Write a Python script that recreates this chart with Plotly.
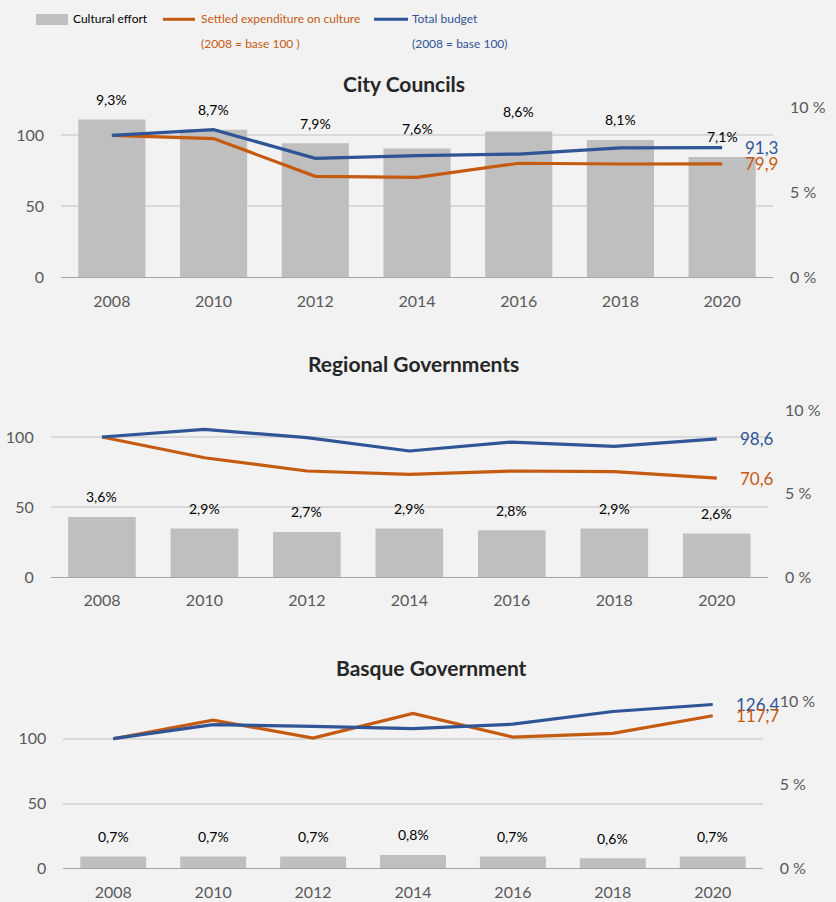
import plotly.graph_objects as go

# ---------------- data ----------------
years = ["2008", "2010", "2012", "2014", "2016", "2018", "2020"]

cc_effort = [9.3, 8.7, 7.9, 7.6, 8.6, 8.1, 7.1]
cc_settled = [100, 97.7, 71.1, 70.4, 80.3, 79.8, 79.9]
cc_budget = [100, 104.0, 83.8, 85.7, 86.8, 91.1, 91.3]

rg_effort = [3.6, 2.9, 2.7, 2.9, 2.8, 2.9, 2.6]
rg_settled = [100, 85.2, 75.7, 73.3, 75.7, 75.2, 70.6]
rg_budget = [100, 105.5, 99.5, 90.0, 96.4, 93.3, 98.6]

bg_effort = [0.7, 0.7, 0.7, 0.8, 0.7, 0.6, 0.7]
bg_settled = [100, 114.3, 100.5, 119.5, 101.2, 104.1, 117.7]
bg_budget = [100, 110.8, 109.5, 107.7, 111.2, 121.0, 126.4]

panel_titles = ["City Councils", "Regional Governments", "Basque Government"]
legend_effort = "Cultural effort"
legend_settled = ["Settled expenditure on culture", "(2008 = base 100 )"]
legend_budget = ["Total budget", "(2008 = base 100)"]

# ---------------- style ----------------
W = 836
H_REF = 902          # reference picture height (layout measured in these pixels)
H = 912              # figure height
SY = H / H_REF       # vertical scale from reference pixels to figure pixels
BG = "#f2f2f2"
BAR = "#bfbfbf"
ORANGE = "#c55a11"
BLUE = "#2f5597"
GRID = "#d9d9d9"
TICK = "#595959"
FONT = "Lato"

panels = [
    dict(xl=61, xr=773, y0=276.3, yt=95, ppu=1.42, ppp=16.96, tx=404, ty=82),
    dict(xl=50.7, xr=768, y0=576, yt=400, ppu=1.40, ppp=16.7, tx=413, ty=362),
    dict(xl=63.3, xr=762.7, y0=867.3, yt=690, ppu=1.296, ppp=16.73, tx=431, ty=666),
]
series = [
    (cc_effort, cc_settled, cc_budget),
    (rg_effort, rg_settled, rg_budget),
    (bg_effort, bg_settled, bg_budget),
]


def px(x):
    return x / W


def py(y):
    return 1 - (y * SY) / H


def fmt(v, pct=False):
    s = f"{v:.1f}".replace(".", ",")
    return s + "%" if pct else s


fig = go.Figure()
layout = dict(
    width=W, height=H,
    margin=dict(l=0, r=0, t=0, b=0),
    paper_bgcolor=BG, plot_bgcolor="rgba(0,0,0,0)",
    showlegend=False, bargap=0.34,
    font=dict(family=FONT, color=TICK),
)
annotations = []
shapes = []

for k, (p, (eff, settled, budget)) in enumerate(zip(panels, series), start=1):
    xname = "x" if k == 1 else f"x{k}"
    xkey = "xaxis" if k == 1 else f"xaxis{k}"
    base_id = 2 * k - 1
    over_id = 2 * k
    base_name = "y" if base_id == 1 else f"y{base_id}"
    base_key = "yaxis" if base_id == 1 else f"yaxis{base_id}"
    over_name = f"y{over_id}"
    over_key = f"yaxis{over_id}"

    dom_y = [py(p["y0"]), py(p["yt"])]
    lmax = (p["y0"] - p["yt"]) / p["ppu"]
    rmax = (p["y0"] - p["yt"]) / p["ppp"]

    layout[xkey] = dict(
        domain=[px(p["xl"]), px(p["xr"])], anchor=base_name, type="category",
        range=[-0.5, len(years) - 0.5],
        showline=True, linecolor="#a6a6a6", linewidth=1, ticks="",
        tickfont=dict(size=16, color=TICK, family=FONT), ticklabelstandoff=9,
        showgrid=False, fixedrange=True,
    )
    layout[base_key] = dict(
        domain=dom_y, anchor=xname, side="right", range=[0, rmax], dtick=5,
        ticksuffix=" %", showgrid=False, zeroline=False, showline=False,
        tickfont=dict(size=16, color=TICK, family=FONT), ticklabelstandoff=16,
        fixedrange=True,
    )
    layout[over_key] = dict(
        domain=dom_y, anchor=xname, overlaying=base_name, side="left",
        range=[0, lmax], dtick=50, showgrid=True, gridcolor=GRID, gridwidth=1.5,
        zeroline=False, showline=False,
        tickfont=dict(size=16, color=TICK, family=FONT), ticklabelstandoff=16,
        fixedrange=True,
    )

    fig.add_trace(go.Bar(x=years, y=eff, marker=dict(color=BAR, line=dict(width=0)),
                         xaxis=xname, yaxis=base_name, name=legend_effort))
    fig.add_trace(go.Scatter(x=years, y=settled, mode="lines",
                             line=dict(color=ORANGE, width=3.2),
                             xaxis=xname, yaxis=over_name, name=legend_settled[0]))
    fig.add_trace(go.Scatter(x=years, y=budget, mode="lines",
                             line=dict(color=BLUE, width=3.2),
                             xaxis=xname, yaxis=over_name, name=legend_budget[0]))

    for i, v in enumerate(eff):
        annotations.append(dict(x=i, y=v, xref=xname, yref=base_name, text=fmt(v, True),
                                showarrow=False, yshift=20 * SY, yanchor="middle",
                                font=dict(size=14, color="#000000", family=FONT)))
    last = len(years) - 1
    annotations.append(dict(x=last, y=budget[-1], xref=xname, yref=over_name,
                            text=fmt(budget[-1]), showarrow=False, xanchor="left",
                            xshift=21, yanchor="middle",
                            font=dict(size=17, color=BLUE, family=FONT)))
    annotations.append(dict(x=last, y=settled[-1], xref=xname, yref=over_name,
                            text=fmt(settled[-1]), showarrow=False, xanchor="left",
                            xshift=21, yanchor="middle",
                            font=dict(size=17, color=ORANGE, family=FONT)))
    annotations.append(dict(x=px(p["tx"]), y=py(p["ty"]), xref="paper", yref="paper",
                            text=f"<b>{panel_titles[k-1]}</b>", showarrow=False,
                            xanchor="center", yanchor="middle",
                            font=dict(size=21, color="#262626", family=FONT)))

shapes.append(dict(type="rect", xref="paper", yref="paper",
                   x0=px(36), x1=px(68), y0=py(24), y1=py(13),
                   fillcolor=BAR, line=dict(width=0)))
shapes.append(dict(type="line", xref="paper", yref="paper",
                   x0=px(163), x1=px(195), y0=py(18.3), y1=py(18.3),
                   line=dict(color=ORANGE, width=3)))
shapes.append(dict(type="line", xref="paper", yref="paper",
                   x0=px(374), x1=px(408), y0=py(18.3), y1=py(18.3),
                   line=dict(color=BLUE, width=3)))
leg_items = [
    (71, 18, legend_effort, "#000000"),
    (199, 18, legend_settled[0], ORANGE),
    (199, 43, legend_settled[1], ORANGE),
    (410, 18, legend_budget[0], BLUE),
    (410, 43, legend_budget[1], BLUE),
]
for x, y, t, c in leg_items:
    annotations.append(dict(x=px(x), y=py(y), xref="paper", yref="paper", text=t,
                            showarrow=False, xanchor="left", yanchor="middle",
                            font=dict(size=12, color=c, family=FONT)))

layout["annotations"] = annotations
layout["shapes"] = shapes
fig.update_layout(**layout)

post = "document.body.style.margin='0';document.body.style.background='#f2f2f2';"
fig.write_html("out.html", config={"displayModeBar": False}, post_script=post)
